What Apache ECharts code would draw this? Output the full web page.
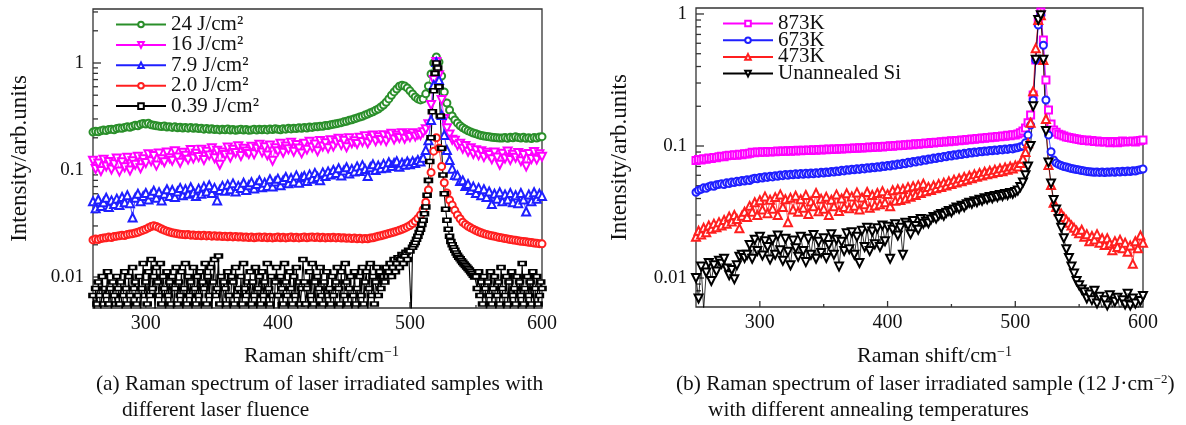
<!DOCTYPE html>
<html><head><meta charset="utf-8">
<script src="https://cdn.jsdelivr.net/npm/echarts@6/dist/echarts.min.js"></script>
<style>html,body{margin:0;padding:0;background:#fff}#c{width:1186px;height:425px}</style>
</head><body><div id="c"></div>
<script>
// ---------- Panel (a): Raman shift (cm^-1) and intensities for each laser fluence ----------
const ramanA = [
260,262,264,266,268,270,272,274,276,278,
280,282,284,286,288,290,292,294,296,298,
300,302,304,306,308,310,312,314,316,318,
320,322,324,326,328,330,332,334,336,338,
340,342,344,346,348,350,352,354,356,358,
360,362,364,366,368,370,372,374,376,378,
380,382,384,386,388,390,392,394,396,398,
400,402,404,406,408,410,412,414,416,418,
420,422,424,426,428,430,432,434,436,438,
440,442,444,446,448,450,452,454,456,458,
460,462,464,466,468,470,472,474,476,478,
480,482,484,486,488,490,492,494,496,498,
500,502,504,506,508,510,512,514,516,518,
520,522,524,526,528,530,532,534,536,538,
540,542,544,546,548,550,552,554,556,558,
560,562,564,566,568,570,572,574,576,578,
580,582,584,586,588,590,592,594,596,598,
600];
const fluence24 = [
0.226,0.230,0.228,0.233,0.236,0.234,0.239,0.241,0.238,0.244,
0.247,0.245,0.250,0.253,0.251,0.256,0.262,0.259,0.268,0.272,
0.269,0.273,0.265,0.262,0.259,0.257,0.255,0.258,0.252,0.254,
0.250,0.253,0.248,0.251,0.247,0.250,0.246,0.249,0.245,0.248,
0.244,0.246,0.241,0.244,0.240,0.243,0.239,0.241,0.237,0.240,
0.238,0.242,0.236,0.239,0.235,0.238,0.240,0.236,0.239,0.235,
0.237,0.240,0.236,0.241,0.238,0.240,0.237,0.242,0.239,0.243,
0.240,0.238,0.243,0.241,0.245,0.242,0.246,0.244,0.248,0.245,
0.249,0.247,0.252,0.250,0.254,0.253,0.257,0.256,0.261,0.260,
0.265,0.267,0.270,0.274,0.277,0.282,0.285,0.291,0.295,0.301,
0.307,0.313,0.318,0.326,0.333,0.342,0.350,0.361,0.372,0.388,
0.405,0.430,0.462,0.500,0.537,0.572,0.606,0.621,0.610,0.585,
0.549,0.514,0.482,0.462,0.452,0.462,0.515,0.610,0.790,1.00,
1.14,1.02,0.756,0.536,0.423,0.364,0.320,0.293,0.275,0.259,
0.248,0.240,0.233,0.227,0.222,0.218,0.213,0.210,0.208,0.206,
0.204,0.202,0.201,0.200,0.199,0.199,0.201,0.198,0.202,0.200,
0.204,0.201,0.199,0.202,0.198,0.200,0.197,0.201,0.199,0.203,
0.205];
const fluence16 = [
0.122,0.102,0.115,0.098,0.125,0.108,0.119,0.101,0.113,0.128,
0.097,0.118,0.106,0.130,0.099,0.121,0.112,0.133,0.104,0.126,
0.116,0.140,0.121,0.135,0.110,0.143,0.126,0.118,0.146,0.129,
0.122,0.150,0.131,0.117,0.145,0.136,0.125,0.154,0.128,0.142,
0.132,0.155,0.124,0.148,0.137,0.160,0.129,0.151,0.112,0.146,
0.138,0.162,0.131,0.155,0.144,0.167,0.135,0.158,0.149,0.141,
0.165,0.140,0.158,0.172,0.146,0.163,0.137,0.169,0.122,0.160,
0.150,0.176,0.145,0.166,0.156,0.180,0.148,0.171,0.159,0.143,
0.176,0.155,0.184,0.162,0.173,0.150,0.187,0.166,0.178,0.160,
0.190,0.166,0.182,0.196,0.171,0.188,0.163,0.198,0.178,0.186,
0.175,0.200,0.183,0.207,0.178,0.195,0.210,0.186,0.202,0.191,
0.211,0.186,0.205,0.218,0.193,0.209,0.199,0.221,0.196,0.212,
0.203,0.220,0.206,0.215,0.212,0.225,0.240,0.268,0.405,0.694,
1.02,0.770,0.450,0.300,0.245,0.215,0.192,0.188,0.170,0.176,
0.158,0.168,0.148,0.160,0.141,0.153,0.137,0.150,0.132,0.145,
0.138,0.126,0.146,0.131,0.112,0.142,0.128,0.149,0.124,0.139,
0.130,0.144,0.121,0.138,0.108,0.141,0.127,0.147,0.125,0.140,
0.133];
const fluence7_9 = [
0.051,0.044,0.053,0.046,0.050,0.055,0.045,0.052,0.048,0.054,
0.047,0.056,0.050,0.058,0.049,0.036,0.055,0.060,0.051,0.057,
0.061,0.053,0.059,0.064,0.055,0.062,0.052,0.060,0.066,0.057,
0.065,0.056,0.063,0.068,0.058,0.066,0.060,0.069,0.062,0.057,
0.067,0.060,0.070,0.063,0.072,0.061,0.068,0.052,0.065,0.071,
0.064,0.073,0.066,0.075,0.063,0.071,0.068,0.076,0.065,0.072,
0.077,0.067,0.074,0.080,0.069,0.076,0.071,0.082,0.070,0.078,
0.083,0.072,0.080,0.086,0.075,0.084,0.078,0.089,0.076,0.085,
0.088,0.079,0.091,0.083,0.094,0.086,0.080,0.095,0.088,0.097,
0.091,0.100,0.094,0.104,0.089,0.099,0.106,0.093,0.102,0.097,
0.108,0.098,0.111,0.102,0.088,0.106,0.113,0.100,0.110,0.104,
0.114,0.105,0.118,0.109,0.116,0.121,0.107,0.117,0.112,0.120,
0.113,0.121,0.116,0.124,0.120,0.130,0.154,0.190,0.293,0.623,
1.02,0.694,0.327,0.212,0.154,0.124,0.103,0.090,0.089,0.079,
0.080,0.071,0.074,0.065,0.070,0.061,0.068,0.058,0.066,0.056,
0.063,0.048,0.060,0.054,0.062,0.051,0.059,0.053,0.061,0.050,
0.058,0.049,0.061,0.053,0.041,0.059,0.051,0.062,0.054,0.060,
0.057];
const fluence2_0 = [
0.0222,0.0226,0.0224,0.0229,0.0231,0.0233,0.0236,0.0234,0.0239,0.0241,
0.0243,0.0246,0.0244,0.0249,0.0252,0.0254,0.0258,0.0262,0.0268,0.0274,
0.0280,0.0288,0.0296,0.0301,0.0297,0.0289,0.0281,0.0274,0.0268,0.0263,
0.0259,0.0256,0.0253,0.0251,0.0250,0.0248,0.0249,0.0246,0.0247,0.0244,
0.0245,0.0243,0.0246,0.0242,0.0244,0.0241,0.0243,0.0240,0.0242,0.0239,
0.0241,0.0238,0.0240,0.0237,0.0239,0.0236,0.0238,0.0235,0.0237,0.0234,
0.0236,0.0233,0.0235,0.0237,0.0234,0.0236,0.0233,0.0235,0.0232,0.0234,
0.0236,0.0233,0.0235,0.0232,0.0234,0.0236,0.0233,0.0235,0.0232,0.0234,
0.0236,0.0233,0.0235,0.0237,0.0234,0.0236,0.0233,0.0235,0.0232,0.0234,
0.0233,0.0235,0.0232,0.0234,0.0231,0.0233,0.0230,0.0232,0.0229,0.0231,
0.0228,0.0230,0.0227,0.0229,0.0228,0.0231,0.0233,0.0236,0.0240,0.0243,
0.0247,0.0251,0.0255,0.0259,0.0263,0.0268,0.0273,0.0279,0.0286,0.0294,
0.0303,0.0316,0.0332,0.0352,0.0380,0.0425,0.0500,0.0650,0.0950,0.150,
0.200,0.160,0.108,0.0760,0.0610,0.0525,0.0470,0.0420,0.0380,0.0350,
0.0325,0.0310,0.0298,0.0288,0.0280,0.0272,0.0265,0.0259,0.0254,0.0250,
0.0246,0.0243,0.0240,0.0237,0.0234,0.0232,0.0229,0.0227,0.0224,0.0222,
0.0220,0.0218,0.0216,0.0215,0.0213,0.0211,0.0210,0.0208,0.0207,0.0205,
0.0204];
// the 0.39 J/cm2 spectrum is read at a 1 cm^-1 step (quantised, very noisy)
const ramanA1 = [
260,261,262,263,264,265,266,267,268,269,270,271,272,273,274,275,276,277,278,279,
280,281,282,283,284,285,286,287,288,289,290,291,292,293,294,295,296,297,298,299,
300,301,302,303,304,305,306,307,308,309,310,311,312,313,314,315,316,317,318,319,
320,321,322,323,324,325,326,327,328,329,330,331,332,333,334,335,336,337,338,339,
340,341,342,343,344,345,346,347,348,349,350,351,352,353,354,355,356,357,358,359,
360,361,362,363,364,365,366,367,368,369,370,371,372,373,374,375,376,377,378,379,
380,381,382,383,384,385,386,387,388,389,390,391,392,393,394,395,396,397,398,399,
400,401,402,403,404,405,406,407,408,409,410,411,412,413,414,415,416,417,418,419,
420,421,422,423,424,425,426,427,428,429,430,431,432,433,434,435,436,437,438,439,
440,441,442,443,444,445,446,447,448,449,450,451,452,453,454,455,456,457,458,459,
460,461,462,463,464,465,466,467,468,469,470,471,472,473,474,475,476,477,478,479,
480,481,482,483,484,485,486,487,488,489,490,491,492,493,494,495,496,497,498,499,
500,501,502,503,504,505,506,507,508,509,510,511,512,513,514,515,516,517,518,519,
520,521,522,523,524,525,526,527,528,529,530,531,532,533,534,535,536,537,538,539,
540,541,542,543,544,545,546,547,548,549,550,551,552,553,554,555,556,557,558,559,
560,561,562,563,564,565,566,567,568,569,570,571,572,573,574,575,576,577,578,579,
580,581,582,583,584,585,586,587,588,589,590,591,592,593,594,595,596,597,598,599,
600];
const fluence0_39 = [
.0067,.0045,.0078,.0056,.0090,.0067,.0045,.0101,.0056,.0078,.0067,.0112,.0056,.0078,.0045,.0090,.0067,.0056,.0101,.0078,
.0056,.0090,.0045,.0067,.0112,.0078,.0056,.0101,.0067,.0045,.0123,.0078,.0090,.0056,.0067,.0101,.0045,.0078,.0134,.0067,
.0090,.0056,.0112,.0067,.0146,.0078,.0101,.0045,.0123,.0090,.0067,.0134,.0056,.0101,.0078,.0045,.0112,.0067,.0090,.0056,
.0101,.0045,.0078,.0123,.0056,.0090,.0067,.0112,.0045,.0078,.0134,.0056,.0101,.0067,.0090,.0045,.0123,.0078,.0056,.0101,
.0067,.0112,.0045,.0090,.0078,.0134,.0056,.0101,.0067,.0123,.0045,.0090,.0146,.0067,.0078,.0157,.0056,.0101,.0045,.0090,
.0078,.0056,.0112,.0067,.0045,.0101,.0090,.0056,.0123,.0067,.0078,.0045,.0101,.0056,.0134,.0078,.0067,.0090,.0045,.0112,
.0056,.0090,.0067,.0123,.0045,.0078,.0101,.0056,.0112,.0067,.0090,.0045,.0134,.0078,.0056,.0101,.0067,.0045,.0090,.0123,
.0067,.0045,.0101,.0078,.0056,.0134,.0090,.0067,.0045,.0112,.0078,.0056,.0101,.0067,.0123,.0045,.0090,.0056,.0078,.0146,
.0090,.0056,.0078,.0045,.0112,.0067,.0134,.0056,.0090,.0045,.0101,.0078,.0123,.0067,.0056,.0090,.0045,.0112,.0067,.0078,
.0056,.0101,.0067,.0045,.0090,.0123,.0078,.0056,.0112,.0045,.0067,.0134,.0090,.0056,.0078,.0101,.0045,.0067,.0112,.0056,
.0078,.0045,.0101,.0067,.0123,.0056,.0090,.0112,.0045,.0078,.0134,.0067,.0101,.0056,.0090,.0123,.0067,.0112,.0078,.0101,
.0101,.0090,.0123,.0101,.0112,.0134,.0101,.0123,.0146,.0112,.0134,.0151,.0123,.0146,.0162,.0134,.0157,.0170,.0146,.0178,
.0175,.0045,.0190,.0200,.0210,.0225,.0240,.0260,.0280,.0310,.0340,.0390,.0450,.0580,.0800,.1200,.2000,.3500,.5500,.8000,
1.000,.9000,.6000,.3200,.1600,.0900,.0600,.0430,.0340,.0280,.0240,.0215,.0200,.0188,.0178,.0168,.0160,.0153,.0148,.0142,
.0137,.0132,.0128,.0124,.0120,.0116,.0112,.0108,.0104,.0100,.0101,.0078,.0112,.0067,.0090,.0056,.0101,.0078,.0045,.0090,
.0067,.0112,.0056,.0078,.0101,.0045,.0067,.0090,.0056,.0123,.0078,.0045,.0067,.0101,.0056,.0090,.0045,.0112,.0067,.0078,
.0056,.0101,.0045,.0090,.0067,.0134,.0056,.0078,.0045,.0101,.0067,.0090,.0056,.0112,.0045,.0078,.0101,.0056,.0067,.0090,
.0078];

// ---------- Panel (b): Raman shift (cm^-1) and intensities for each annealing temperature ----------
const ramanB = [
250,252,254,256,258,260,262,264,266,268,
270,272,274,276,278,280,282,284,286,288,
290,292,294,296,298,300,302,304,306,308,
310,312,314,316,318,320,322,324,326,328,
330,332,334,336,338,340,342,344,346,348,
350,352,354,356,358,360,362,364,366,368,
370,372,374,376,378,380,382,384,386,388,
390,392,394,396,398,400,402,404,406,408,
410,412,414,416,418,420,422,424,426,428,
430,432,434,436,438,440,442,444,446,448,
450,452,454,456,458,460,462,464,466,468,
470,472,474,476,478,480,482,484,486,488,
490,492,494,496,498,500,502,504,506,508,
510,512,514,516,518,520,522,524,526,528,
530,532,534,536,538,540,542,544,546,548,
550,552,554,556,558,560,562,564,566,568,
570,572,574,576,578,580,582,584,586,588,
590,592,594,596,598,600];
const anneal873 = [
0.0775,0.0790,0.0782,0.0800,0.0795,0.0812,0.0805,0.0820,0.0815,0.0830,
0.0838,0.0830,0.0845,0.0852,0.0846,0.0858,0.0852,0.0866,0.0860,0.0872,
0.0868,0.0880,0.0895,0.0888,0.0902,0.0896,0.0905,0.0898,0.0908,0.0902,
0.0910,0.0904,0.0915,0.0908,0.0918,0.0911,0.0921,0.0914,0.0924,0.0917,
0.0927,0.0920,0.0930,0.0923,0.0933,0.0926,0.0936,0.0929,0.0940,0.0933,
0.0943,0.0936,0.0947,0.0940,0.0951,0.0944,0.0955,0.0948,0.0959,0.0952,
0.0963,0.0956,0.0967,0.0960,0.0972,0.0965,0.0976,0.0969,0.0981,0.0974,
0.0986,0.0979,0.0991,0.0984,0.0997,0.0990,0.1003,0.0996,0.1010,0.1003,
0.1017,0.1010,0.1024,0.1017,0.1031,0.1024,0.1038,0.1031,0.1045,0.1038,
0.1053,0.1046,0.1061,0.1054,0.1069,0.1062,0.1077,0.1070,0.1085,0.1078,
0.1094,0.1087,0.1103,0.1096,0.1112,0.1105,0.1121,0.1114,0.1130,0.1124,
0.1140,0.1133,0.1150,0.1143,0.1160,0.1153,0.1170,0.1164,0.1181,0.1175,
0.1192,0.1186,0.1204,0.1198,0.1216,0.1211,0.1235,0.1262,0.1300,0.1370,
0.150,0.172,0.243,0.448,0.870,1.035,0.635,0.316,0.187,0.147,
0.132,0.127,0.123,0.121,0.119,0.117,0.116,0.115,0.114,0.113,
0.112,0.111,0.110,0.111,0.109,0.110,0.108,0.109,0.107,0.108,
0.107,0.108,0.106,0.107,0.108,0.106,0.107,0.109,0.107,0.108,
0.108,0.109,0.107,0.109,0.110,0.111];
const anneal673 = [
0.0446,0.0462,0.0470,0.0482,0.0478,0.0492,0.0500,0.0496,0.0508,0.0512,
0.0518,0.0510,0.0526,0.0520,0.0534,0.0528,0.0540,0.0535,0.0548,0.0542,
0.0555,0.0548,0.0562,0.0570,0.0565,0.0578,0.0572,0.0585,0.0578,0.0590,
0.0583,0.0596,0.0590,0.0603,0.0596,0.0608,0.0600,0.0612,0.0605,0.0615,
0.0608,0.0618,0.0610,0.0621,0.0613,0.0624,0.0616,0.0628,0.0620,0.0632,
0.0625,0.0636,0.0630,0.0642,0.0636,0.0648,0.0641,0.0654,0.0648,0.0660,
0.0654,0.0666,0.0660,0.0672,0.0665,0.0678,0.0671,0.0684,0.0677,0.0690,
0.0683,0.0696,0.0690,0.0704,0.0698,0.0712,0.0706,0.0721,0.0715,0.0731,
0.0724,0.0741,0.0734,0.0752,0.0745,0.0763,0.0756,0.0774,0.0768,0.0786,
0.0780,0.0798,0.0792,0.0810,0.0804,0.0822,0.0816,0.0834,0.0828,0.0846,
0.0840,0.0858,0.0851,0.0869,0.0862,0.0880,0.0873,0.0891,0.0884,0.0901,
0.0894,0.0910,0.0903,0.0918,0.0911,0.0926,0.0919,0.0933,0.0926,0.0940,
0.0934,0.0948,0.0942,0.0957,0.0951,0.0966,0.0972,0.0985,0.1000,0.1060,
0.121,0.144,0.223,0.448,0.825,0.980,0.580,0.223,0.121,0.0905,
0.0785,0.0745,0.0725,0.0712,0.0700,0.0692,0.0684,0.0676,0.0670,0.0664,
0.0659,0.0652,0.0648,0.0642,0.0638,0.0636,0.0632,0.0636,0.0631,0.0635,
0.0630,0.0636,0.0632,0.0638,0.0633,0.0640,0.0636,0.0643,0.0638,0.0646,
0.0641,0.0650,0.0646,0.0656,0.0662,0.0670];
const anneal473 = [
0.0205,0.0228,0.0214,0.0240,0.0222,0.0250,0.0236,0.0258,0.0242,0.0265,
0.0250,0.0275,0.0258,0.0292,0.0268,0.0300,0.0280,0.0238,0.0296,0.0318,
0.0290,0.0352,0.0318,0.0375,0.0300,0.0388,0.0330,0.0415,0.0310,0.0392,
0.0335,0.0410,0.0300,0.0430,0.0345,0.0395,0.0265,0.0405,0.0330,0.0420,
0.0318,0.0395,0.0340,0.0425,0.0305,0.0380,0.0350,0.0440,0.0320,0.0398,
0.0335,0.0412,0.0300,0.0392,0.0350,0.0430,0.0322,0.0400,0.0345,0.0438,
0.0338,0.0415,0.0352,0.0445,0.0330,0.0408,0.0362,0.0448,0.0340,0.0425,
0.0355,0.0440,0.0362,0.0455,0.0375,0.0432,0.0350,0.0462,0.0385,0.0470,
0.0390,0.0472,0.0400,0.0488,0.0412,0.0495,0.0425,0.0505,0.0440,0.0518,
0.0455,0.0490,0.0465,0.0502,0.0478,0.0515,0.0490,0.0528,0.0502,0.0540,
0.0515,0.0555,0.0528,0.0568,0.0540,0.0582,0.0556,0.0595,0.0570,0.0610,
0.0585,0.0625,0.0598,0.0638,0.0610,0.0650,0.0622,0.0662,0.0635,0.0675,
0.0645,0.0688,0.0660,0.0700,0.0675,0.0712,0.0700,0.0745,0.0800,0.0900,
0.105,0.150,0.260,0.550,0.900,0.980,0.448,0.160,0.0719,0.0507,
0.0371,0.0345,0.0320,0.0307,0.0290,0.0275,0.0262,0.0250,0.0240,0.0228,
0.0218,0.0232,0.0205,0.0215,0.0190,0.0208,0.0196,0.0215,0.0185,0.0200,
0.0178,0.0200,0.0183,0.0162,0.0190,0.0172,0.0195,0.0168,0.0185,0.0158,
0.0176,0.0128,0.0190,0.0168,0.0210,0.0185];
const unannealed = [
0.0100,0.0070,0.0122,0.0058,0.0110,0.0130,0.0095,0.0125,0.0112,0.0135,
0.0128,0.0140,0.0118,0.0105,0.0115,0.0098,0.0125,0.0145,0.0150,0.0142,
0.0150,0.0178,0.0140,0.0195,0.0160,0.0205,0.0148,0.0190,0.0172,0.0138,
0.0195,0.0150,0.0210,0.0162,0.0135,0.0198,0.0158,0.0125,0.0192,0.0168,
0.0145,0.0205,0.0160,0.0132,0.0198,0.0150,0.0212,0.0140,0.0188,0.0155,
0.0200,0.0142,0.0178,0.0215,0.0150,0.0195,0.0122,0.0188,0.0160,0.0218,
0.0165,0.0222,0.0150,0.0205,0.0130,0.0228,0.0172,0.0240,0.0160,0.0225,
0.0180,0.0238,0.0172,0.0250,0.0190,0.0245,0.0140,0.0232,0.0255,0.0210,
0.0240,0.0150,0.0262,0.0250,0.0215,0.0270,0.0248,0.0232,0.0280,0.0258,
0.0268,0.0260,0.0278,0.0290,0.0282,0.0298,0.0305,0.0296,0.0312,0.0322,
0.0315,0.0330,0.0342,0.0335,0.0352,0.0345,0.0362,0.0372,0.0365,0.0382,
0.0375,0.0392,0.0385,0.0402,0.0395,0.0410,0.0402,0.0418,0.0410,0.0425,
0.0418,0.0432,0.0425,0.0440,0.0435,0.0448,0.0460,0.0490,0.0530,0.0600,
0.0700,0.100,0.200,0.450,0.900,0.980,0.450,0.130,0.0750,0.0520,
0.0390,0.0330,0.0280,0.0240,0.0200,0.0165,0.0142,0.0122,0.0108,0.0095,
0.0088,0.0082,0.0078,0.0070,0.0075,0.0068,0.0080,0.0064,0.0072,0.0058,
0.0068,0.0062,0.0074,0.0060,0.0066,0.0071,0.0057,0.0068,0.0063,0.0076,
0.0062,0.0070,0.0064,0.0058,0.0067,0.0073];

// ---------- axis ranges and tick values ----------
const xRangeA = [260, 600];
const yRangeA = [0.005132, 3.197];
const xRangeB = [250, 600];
const yRangeB = [0.006032, 1.110];
const yMajorTicks = [1, 0.1, 0.01];
const yMinorTicksA = [3,2,0.9,0.8,0.7,0.6,0.5,0.4,0.3,0.2,0.09,0.08,0.07,0.06,0.05,0.04,0.03,0.02,0.009,0.008,0.007,0.006];
const yMinorTicksB = [0.9,0.8,0.7,0.6,0.5,0.4,0.3,0.2,0.09,0.08,0.07,0.06,0.05,0.04,0.03,0.02,0.009,0.008,0.007];
const xMajorTicks = [300, 400, 500];
const xMinorTicks = [350, 450, 550];

const SERIF = 'Liberation Serif';
const TXT = '#111';

function pairs(xs, ys) { return xs.map((x, i) => [x, ys[i]]); }
function tickData(xr, yr, yMinor) {
  const d = [];
  yMajorTicks.forEach(v => d.push([xr[0], v, 0, 8]));
  yMinor.forEach(v => d.push([xr[0], v, 0, 5]));
  xMajorTicks.forEach(v => d.push([v, yr[0], 1, 6]));
  xMinorTicks.forEach(v => d.push([v, yr[0], 1, 3]));
  return d;
}
function tickRender(params, api) {
  const p = api.coord([api.value(0), api.value(1)]);
  const dir = api.value(2), len = api.value(3);
  const shape = dir === 0
    ? { x1: p[0], y1: p[1], x2: p[0] + len, y2: p[1] }
    : { x1: p[0], y1: p[1], x2: p[0], y2: p[1] - len };
  return { type: 'line', shape: shape, style: { stroke: '#333', lineWidth: 1.3 } };
}
function yLabel(v) {
  const e = Math.round(Math.log10(v));
  if (Math.abs(Math.log10(v) - e) > 1e-6 || e > 0 || e < -2) return '';
  return e === 0 ? '1' : Math.pow(10, e).toFixed(-e);
}
const xName = '{t|Raman shift/cm}{s|−1}';
const nameRich = {
  t: { fontFamily: SERIF, fontSize: 22, color: TXT },
  s: { fontFamily: SERIF, fontSize: 14, color: TXT, verticalAlign: 'top' }
};

function lineSeries(name, xs, ys, color, symbol, size, rotate, idx, lw) {
  return {
    type: 'line', name: name, xAxisIndex: idx, yAxisIndex: idx,
    data: pairs(xs, ys), symbol: symbol, symbolSize: size, symbolRotate: rotate || 0,
    lineStyle: { color: color, width: lw || 0.8 },
    itemStyle: { color: color, borderColor: color, borderWidth: 0.8 },
    emphasis: { disabled: true }, clip: true, z: 3
  };
}

const chart = echarts.init(document.getElementById('c'), null, { renderer: 'canvas' });
chart.setOption({
  animation: false,
  backgroundColor: '#fff',
  grid: [
    { left: 93, top: 9, width: 449, height: 299, show: true, borderColor: '#333', borderWidth: 1.3, backgroundColor: 'transparent', containLabel: false, outerBoundsMode: 'none' },
    { left: 696, top: 8, width: 447, height: 299, show: true, borderColor: '#333', borderWidth: 1.3, backgroundColor: 'transparent', containLabel: false, outerBoundsMode: 'none' }
  ],
  xAxis: [
    { type: 'value', gridIndex: 0, min: xRangeA[0], max: xRangeA[1], interval: 20,
      axisLine: { show: false }, axisTick: { show: false }, splitLine: { show: false },
      axisLabel: { formatter: v => (v % 100 === 0 ? String(v) : ''), fontFamily: SERIF, fontSize: 20, color: TXT, margin: 6 },
      name: xName, nameLocation: 'middle', nameGap: 37, nameTextStyle: { rich: nameRich, padding: [0, 0, 0, 8] } },
    { type: 'value', gridIndex: 1, min: xRangeB[0], max: xRangeB[1], interval: 50,
      axisLine: { show: false }, axisTick: { show: false }, splitLine: { show: false },
      axisLabel: { formatter: v => (v % 100 === 0 ? String(v) : ''), fontFamily: SERIF, fontSize: 20, color: TXT, margin: 6 },
      name: xName, nameLocation: 'middle', nameGap: 38, nameTextStyle: { rich: nameRich, padding: [0, 0, 0, 30] } }
  ],
  yAxis: [
    { type: 'log', logBase: 10, gridIndex: 0, min: yRangeA[0], max: yRangeA[1],
      axisLine: { show: false }, axisTick: { show: false }, splitLine: { show: false }, minorTick: { show: false },
      axisLabel: { formatter: yLabel, showMinLabel: false, showMaxLabel: false, fontFamily: SERIF, fontSize: 19, color: TXT, margin: 9 },
      name: 'Intensity/arb.units', nameLocation: 'middle', nameGap: 62,
      nameTextStyle: { fontFamily: SERIF, fontSize: 23, color: TXT } },
    { type: 'log', logBase: 10, gridIndex: 1, min: yRangeB[0], max: yRangeB[1],
      axisLine: { show: false }, axisTick: { show: false }, splitLine: { show: false }, minorTick: { show: false },
      axisLabel: { formatter: yLabel, showMinLabel: false, showMaxLabel: false, fontFamily: SERIF, fontSize: 19, color: TXT, margin: 9 },
      name: 'Intensity/arb.units', nameLocation: 'middle', nameGap: 65,
      nameTextStyle: { fontFamily: SERIF, fontSize: 23, color: TXT } }
  ],
  legend: [
    { orient: 'vertical', left: 115, top: 14, itemWidth: 50, itemHeight: 7, itemGap: -0.6, padding: 0,
      selectedMode: false,
      textStyle: { fontFamily: SERIF, fontSize: 21, color: TXT, lineHeight: 18 },
      data: ['24 J/cm²', '16 J/cm²', '7.9 J/cm²', '2.0 J/cm²', '0.39 J/cm²'] },
    { orient: 'vertical', left: 722, top: 13, itemWidth: 50, itemHeight: 7, itemGap: -4.3, padding: 0,
      selectedMode: false,
      textStyle: { fontFamily: SERIF, fontSize: 21, color: TXT, lineHeight: 17 },
      data: ['873K', '673K', '473K', 'Unannealed Si'] }
  ],
  graphic: [
    { type: 'text', x: 96, y: 384, style: { text: '(a) Raman spectrum of laser irradiated samples with', fontFamily: SERIF, fontSize: 21.4, fill: TXT, verticalAlign: 'middle' } },
    { type: 'text', x: 122, y: 410, style: { text: 'different laser fluence', fontFamily: SERIF, fontSize: 21.4, fill: TXT, verticalAlign: 'middle' } },
    { type: 'text', x: 676, y: 384, style: {
        text: '{n|(b) Raman spectrum of laser irradiated sample (12 J·cm}{s|−2}{n|)}', verticalAlign: 'middle',
        rich: { n: { fontFamily: SERIF, fontSize: 21.4, fill: TXT, color: TXT }, s: { fontFamily: SERIF, fontSize: 13, fill: TXT, color: TXT, verticalAlign: 'top' } } } },
    { type: 'text', x: 708, y: 410, style: { text: 'with different annealing temperatures', fontFamily: SERIF, fontSize: 21.4, fill: TXT, verticalAlign: 'middle' } }
  ],
  series: [
    { type: 'custom', name: 'ticksA', xAxisIndex: 0, yAxisIndex: 0, renderItem: tickRender, data: tickData(xRangeA, yRangeA, yMinorTicksA), encode: { x: 0, y: 1 }, clip: false, silent: true, z: 1 },
    { type: 'custom', name: 'ticksB', xAxisIndex: 1, yAxisIndex: 1, renderItem: tickRender, data: tickData(xRangeB, yRangeB, yMinorTicksB), encode: { x: 0, y: 1 }, clip: false, silent: true, z: 1 },
    lineSeries('24 J/cm²', ramanA, fluence24, '#2a8f2a', 'emptyCircle', 7, 0, 0),
    lineSeries('16 J/cm²', ramanA, fluence16, '#ff00ff', 'emptyTriangle', 8, 180, 0),
    lineSeries('7.9 J/cm²', ramanA, fluence7_9, '#1f1fff', 'emptyTriangle', 8, 0, 0),
    lineSeries('2.0 J/cm²', ramanA, fluence2_0, '#ff1f1f', 'emptyCircle', 7, 0, 0),
    lineSeries('0.39 J/cm²', ramanA1, fluence0_39, '#000000', 'emptyRect', [7, 4], 0, 0, 1.1),
    lineSeries('873K', ramanB, anneal873, '#ff00ff', 'emptyRect', 7, 0, 1),
    lineSeries('673K', ramanB, anneal673, '#1f1fff', 'emptyCircle', 7, 0, 1),
    lineSeries('473K', ramanB, anneal473, '#ff1f1f', 'emptyTriangle', 8, 0, 1),
    lineSeries('Unannealed Si', ramanB, unannealed, '#000000', 'emptyTriangle', 8, 180, 1)
  ]
});
</script>
</body></html>
